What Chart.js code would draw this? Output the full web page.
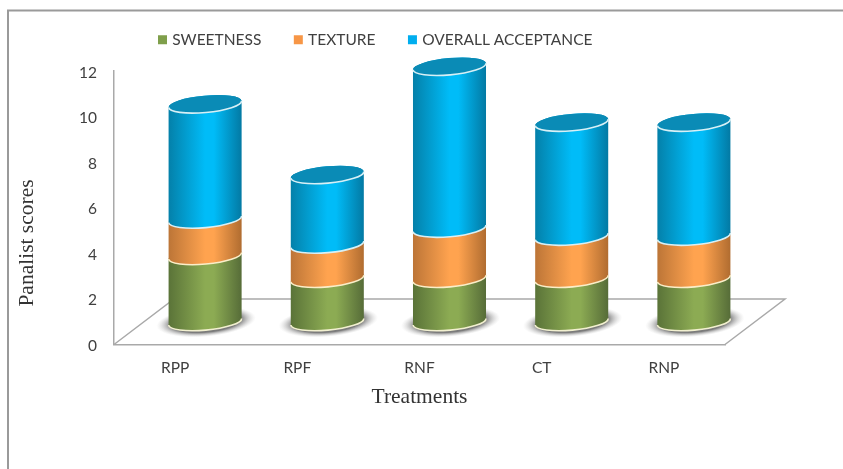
<!DOCTYPE html>
<html>
<head>
<meta charset="utf-8">
<style>
  html, body { margin: 0; background: #fff; }
  canvas { display: block; }
</style>
<script src="https://cdn.jsdelivr.net/npm/chart.js@4"></script>
</head>
<body>
<canvas id="myChart" width="843" height="469"></canvas>
<script>
let treatments = ['RPP', 'RPF', 'RNF', 'CT', 'RNP'];
let sweetness = [2.9, 1.9, 1.9, 1.9, 1.9];
let texture = [1.6, 1.5, 2.2, 1.85, 1.85];
let acceptance = [5.05, 3.05, 7.1, 5, 5];
let scoreTicks = [0, 2, 4, 6, 8, 10, 12];

// side gradients and rim colour of each stacked part
let cylinderStyles = [
    { edgeL: '#5a7338', mid: '#8cab53', edgeR: '#566c38', rim: '#f2f0d0' },
    { edgeL: '#bc7537', mid: '#ffa34f', edgeR: '#b06c30', rim: '#fbeec8' },
    { edgeL: '#0480a9', mid: '#00bcf8', edgeR: '#0379a3', rim: '#d8f0f6' }
];
let capColor = '#0a8bb6';

// floor depth, the bars stand halfway along it
const depthX = 60, depthY = 45.5;
const tilt = -0.09;
const inkColor = '#404040';
const lineColor = '#a9a9a9';

function drawFloor(ctx, area) {
    ctx.save();
    ctx.strokeStyle = lineColor;
    ctx.lineWidth = 1.5;
    ctx.beginPath();
    ctx.moveTo(area.left, area.bottom);
    ctx.lineTo(area.left + depthX, area.bottom - depthY);
    ctx.lineTo(area.right + depthX, area.bottom - depthY);
    ctx.lineTo(area.right, area.bottom);
    ctx.stroke();
    ctx.restore();
}

function drawShadow(ctx, cx, cy, rx) {
    let r = rx * 1.36;
    ctx.save();
    ctx.translate(cx + 1, cy);
    ctx.rotate(tilt);
    ctx.scale(1, 0.3);
    let g = ctx.createRadialGradient(0, 0, 0, 0, 0, r);
    g.addColorStop(0, '#707070');
    g.addColorStop(0.7, '#7c7c7c');
    g.addColorStop(1, 'rgba(210,210,210,0)');
    ctx.fillStyle = g;
    ctx.beginPath();
    ctx.arc(0, 0, r, 0, Math.PI * 2);
    ctx.fill();
    ctx.restore();
}

function drawPart(ctx, bar, style, isTop) {
    let cx = bar.x + depthX / 2;
    let top = bar.y - depthY / 2;
    let base = bar.base - depthY / 2;
    let rx = bar.width / 2;
    let ry = rx * 0.23;

    let g = ctx.createLinearGradient(cx - rx, 0, cx + rx, 0);
    g.addColorStop(0, style.edgeL);
    g.addColorStop(0.5, style.mid);
    g.addColorStop(0.62, style.mid);
    g.addColorStop(1, style.edgeR);

    ctx.save();
    ctx.fillStyle = g;
    ctx.beginPath();
    ctx.ellipse(cx, base, rx, ry, tilt, 0, Math.PI);
    ctx.ellipse(cx, top, rx, ry, tilt, Math.PI, Math.PI * 2);
    ctx.closePath();
    ctx.fill();

    // light rim along the front of the part
    ctx.strokeStyle = style.rim;
    ctx.lineWidth = 1.6;
    ctx.beginPath();
    ctx.ellipse(cx, base, rx, ry, tilt, 0, Math.PI);
    ctx.stroke();

    if (isTop) {
        ctx.fillStyle = capColor;
        ctx.beginPath();
        ctx.ellipse(cx, top, rx, ry, tilt, 0, Math.PI * 2);
        ctx.fill();
        ctx.beginPath();
        ctx.ellipse(cx, top, rx, ry, tilt, 0, Math.PI);
        ctx.stroke();
    }
    ctx.restore();
}

const cylinders = {
    id: 'cylinders',
    beforeLayout(chart) {
        // the legend floats, it takes no room from the plot
        let legend = chart.legend;
        if (!legend.flatFit) {
            let fit = legend.fit;
            legend.fit = function () {
                fit.call(this);
                this.height = 0;
            };
            legend.flatFit = true;
        }
    },
    afterLayout(chart) {
        // legend row starts left of centre
        let legend = chart.legend;
        let pad = legend.options.labels.padding;
        legend.left = 160.5 - pad;
        legend.right = 843;
        legend.top = 32 - pad;
    },
    beforeDatasetsDraw(chart) {
        let ctx = chart.ctx;
        let area = chart.chartArea;
        drawFloor(ctx, area);

        let first = chart.getDatasetMeta(0).data;
        first.forEach(bar => {
            drawShadow(ctx, bar.x + depthX / 2, bar.base - depthY / 2, bar.width / 2);
        });

        // bottom part first so each upper rim overlaps the one below
        let last = chart.data.datasets.length - 1;
        chart.data.datasets.forEach((ds, d) => {
            chart.getDatasetMeta(d).data.forEach(bar => {
                drawPart(ctx, bar, cylinderStyles[d], d === last);
            });
        });
        return false;
    },
    afterDraw(chart) {
        let ctx = chart.ctx;
        ctx.save();
        // frame, open on the right and at the bottom
        ctx.strokeStyle = '#9a9a9a';
        ctx.lineWidth = 2;
        ctx.beginPath();
        ctx.moveTo(8, 469);
        ctx.lineTo(8, 10.5);
        ctx.lineTo(843, 10.5);
        ctx.stroke();

        // y axis title sits lower than the plot centre
        ctx.fillStyle = '#333';
        ctx.font = '21.5px "Liberation Serif"';
        ctx.textAlign = 'center';
        ctx.textBaseline = 'middle';
        ctx.translate(27.5, 243);
        ctx.rotate(-Math.PI / 2);
        ctx.fillText('Panalist scores', 0, 0);
        ctx.restore();
    }
};

const chart = document.getElementById('myChart').getContext('2d');
const myChart = new Chart(chart, {
    type: 'bar',
    data: {
        labels: treatments,
        datasets: [
            { label: 'SWEETNESS', data: sweetness, backgroundColor: '#7f9f4b' },
            { label: 'TEXTURE', data: texture, backgroundColor: '#f79646' },
            { label: 'OVERALL ACCEPTANCE', data: acceptance, backgroundColor: '#00aeef' }
        ]
    },
    options: {
        responsive: false,
        animation: false,
        barPercentage: 1,
        categoryPercentage: 0.6,
        layout: { padding: { top: 71, right: 118, left: 0, bottom: 0 } },
        plugins: {
            tooltip: { enabled: false },
            title: { display: false },
            legend: {
                position: 'top',
                align: 'start',
                labels: {
                    usePointStyle: true,
                    pointStyle: 'rect',
                    boxWidth: 4,
                    boxHeight: 9,
                    padding: 35,
                    color: inkColor,
                    font: { family: 'Lato', size: 15.5 }
                }
            }
        },
        scales: {
            x: {
                stacked: true,
                afterFit: axis => { axis.height = 124.5; },
                grid: { display: false, drawTicks: false },
                border: { color: lineColor, width: 1.5 },
                ticks: { color: inkColor, padding: 14, font: { family: 'Lato', size: 15.5 } },
                title: {
                    display: true,
                    text: 'Treatments',
                    color: '#333',
                    padding: { top: 0, bottom: 59 },
                    font: { family: 'Liberation Serif', size: 21.5 }
                }
            },
            y: {
                stacked: true,
                min: 0,
                max: 12,
                afterFit: axis => { axis.width = 114; },
                afterBuildTicks: axis => { axis.ticks = scoreTicks.map(v => ({ value: v })); },
                grid: { display: false, drawTicks: false },
                border: { color: lineColor, width: 1.5 },
                ticks: { color: inkColor, padding: 17, labelOffset: 1.5, font: { family: 'Lato', size: 15.5 } }
            }
        }
    },
    plugins: [cylinders]
});
</script>
</body>
</html>
